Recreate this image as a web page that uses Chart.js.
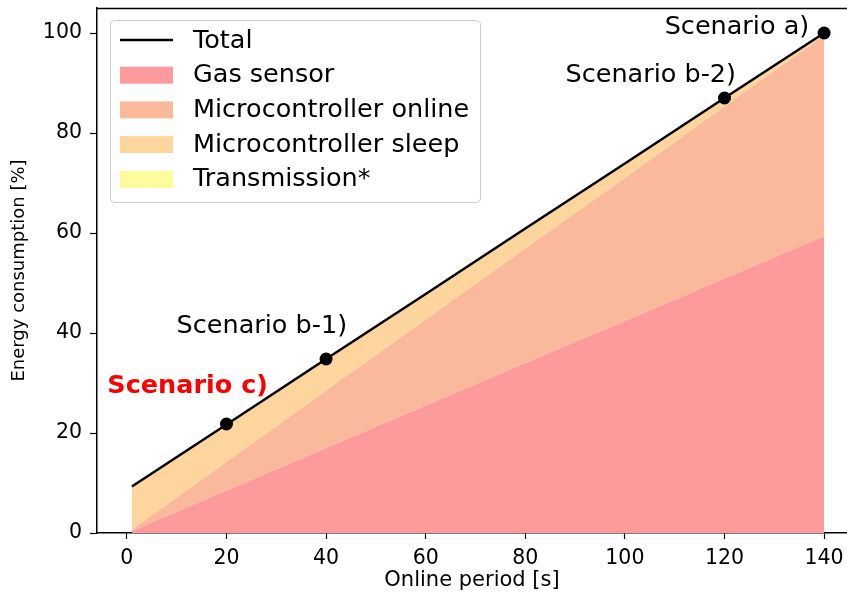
<!DOCTYPE html>
<html>
<head>
<meta charset="utf-8">
<script src="https://cdn.jsdelivr.net/npm/chart.js@4"></script>
<style>
  html, body { margin: 0; padding: 0; background: #fff; }
  #wrap { width: 847px; height: 594px; }
</style>
</head>
<body>
<div id="wrap"><canvas id="energyChart" width="847" height="594"></canvas></div>
<script>
// online period in seconds
var periods = [1, 20, 40, 60, 80, 100, 120, 140];
// energy share per part, % (stacked)
var gasSensor = [0.4, 8.5, 17.0, 25.5, 34.0, 42.4, 50.9, 59.4];
var mcuOnline = [0.3, 5.7, 11.5, 17.2, 22.9, 28.6, 34.4, 40.1];
var mcuSleep = [8.4, 7.3, 6.1, 4.9, 3.8, 2.7, 1.5, 0.3];
var transmission = [0.2, 0.2, 0.2, 0.2, 0.2, 0.2, 0.2, 0.2];
var total = [9.3, 21.7, 34.8, 47.8, 60.9, 73.9, 87.0, 100];

// the marked scenarios on the total line
var scenarioX = [20, 40, 120, 140];
var scenarioY = [21.8, 34.8, 87.0, 100];
var scenarioNames = ['Scenario c)', 'Scenario b-1)', 'Scenario b-2)', 'Scenario a)'];
var scenarioTextX = [12.2, 27.1, 105.2, 122.5];
var scenarioTextY = [29.4, 41.4, 91.6, 101.2];

var xTicks = [0, 20, 40, 60, 80, 100, 120, 140];
var yTicks = [0, 20, 40, 60, 80, 100];

var FONT = "'DejaVu Sans', 'Liberation Sans', sans-serif";

function pts(values) {
    return periods.map(function (p, i) { return { x: p, y: values[i] }; });
}

function area(label, values, color, fill) {
    return {
        label: label,
        data: pts(values),
        backgroundColor: color,
        borderColor: color,
        borderWidth: 0,
        pointRadius: 0,
        fill: fill,
        stack: 'parts',
        order: 2
    };
}

function noPad(s) {
    s.paddingLeft = 0;
    s.paddingRight = 0;
    s.paddingTop = 0;
    s.paddingBottom = 0;
}

var overlay = {
    id: 'overlay',
    afterDraw: function (chart) {
        var c = chart.ctx;
        var area = chart.chartArea;
        var xs = chart.scales.x, ys = chart.scales.y;

        // top spine
        c.save();
        c.strokeStyle = '#000';
        c.lineWidth = 1.5;
        c.beginPath();
        c.moveTo(area.left, area.top + 0.5);
        c.lineTo(area.right, area.top + 0.5);
        c.stroke();

        // scenario labels
        c.textAlign = 'center';
        c.textBaseline = 'middle';
        scenarioNames.forEach(function (name, i) {
            var red = name === 'Scenario c)';
            c.font = (red ? 'bold ' : '') + '25.5px ' + FONT;
            c.fillStyle = red ? '#ff0000' : '#000';
            c.fillText(name, xs.getPixelForValue(scenarioTextX[i]), ys.getPixelForValue(scenarioTextY[i]));
        });

        // legend box
        var lx = 110, ly = 20, lw = 370, lh = 182;
        c.beginPath();
        c.roundRect(lx + 0.5, ly + 0.5, lw, lh, 4);
        c.fillStyle = 'rgba(255,255,255,0.8)';
        c.fill();
        c.strokeStyle = '#cccccc';
        c.lineWidth = 1;
        c.stroke();

        var items = [chart.data.datasets[0]].concat(chart.data.datasets.slice(2));
        c.textAlign = 'left';
        c.font = '25.5px ' + FONT;
        items.forEach(function (ds, i) {
            var cy = 40 + i * 34.7;
            if (i === 0) {
                c.strokeStyle = '#000';
                c.lineWidth = 2.5;
                c.beginPath();
                c.moveTo(120, cy);
                c.lineTo(173, cy);
                c.stroke();
            } else {
                c.fillStyle = ds.backgroundColor;
                c.fillRect(120, cy - 8, 53, 17);
            }
            c.fillStyle = '#000';
            c.fillText(ds.label, 193, cy + 1);
        });
        c.restore();
    }
};

var ctx = document.getElementById('energyChart').getContext('2d');
var energyChart = new Chart(ctx, {
    type: 'line',
    data: {
        datasets: [{
            label: 'Total',
            data: pts(total),
            borderColor: '#000',
            borderWidth: 2.5,
            pointRadius: 0,
            fill: false,
            stack: 'total',
            order: 1
        }, {
            label: 'Scenarios',
            data: scenarioX.map(function (x, i) { return { x: x, y: scenarioY[i] }; }),
            showLine: false,
            pointRadius: 6.5,
            pointBackgroundColor: '#000',
            pointBorderWidth: 0,
            stack: 'marks',
            order: 0
        },
            area('Gas sensor', gasSensor, '#fd9b9c', 'origin'),
            area('Microcontroller online', mcuOnline, '#fbb99b', '-1'),
            area('Microcontroller sleep', mcuSleep, '#fdd59d', '-1'),
            area('Transmission*', transmission, '#fdfc9a', '-1')
        ]
    },
    options: {
        responsive: false,
        animation: false,
        layout: { autoPadding: false, padding: { top: 8, right: 0, left: 0, bottom: 0 } },
        plugins: { legend: { display: false }, tooltip: { enabled: false } },
        scales: {
            x: {
                type: 'linear',
                min: -6,
                max: 144.6,
                afterBuildTicks: function (s) { s.ticks = xTicks.map(function (v) { return { value: v }; }); },
                afterFit: function (s) { s.height = 61; noPad(s); },
                grid: { drawOnChartArea: false, tickLength: 6, tickColor: '#000', tickWidth: 1.2 },
                border: { color: '#000', width: 1.5 },
                ticks: { color: '#000', padding: 7, maxRotation: 0, font: { family: FONT, size: 20.5 } },
                title: { display: true, text: 'Online period [s]', color: '#000', padding: { top: 0, bottom: 1 }, font: { family: FONT, size: 21 } }
            },
            y: {
                stacked: true,
                min: 0,
                max: 105,
                afterBuildTicks: function (s) { s.ticks = yTicks.map(function (v) { return { value: v }; }); },
                afterFit: function (s) { s.width = 97; noPad(s); },
                grid: { drawOnChartArea: false, tickLength: 7, tickColor: '#000', tickWidth: 1.2 },
                border: { color: '#000', width: 1.5 },
                ticks: { color: '#000', padding: 8, font: { family: FONT, size: 20.5 } },
                title: { display: true, text: 'Energy consumption [%]', color: '#000', padding: { top: 9, bottom: 0 }, font: { family: FONT, size: 18 } }
            }
        }
    },
    plugins: [overlay]
});
</script>
</body>
</html>
